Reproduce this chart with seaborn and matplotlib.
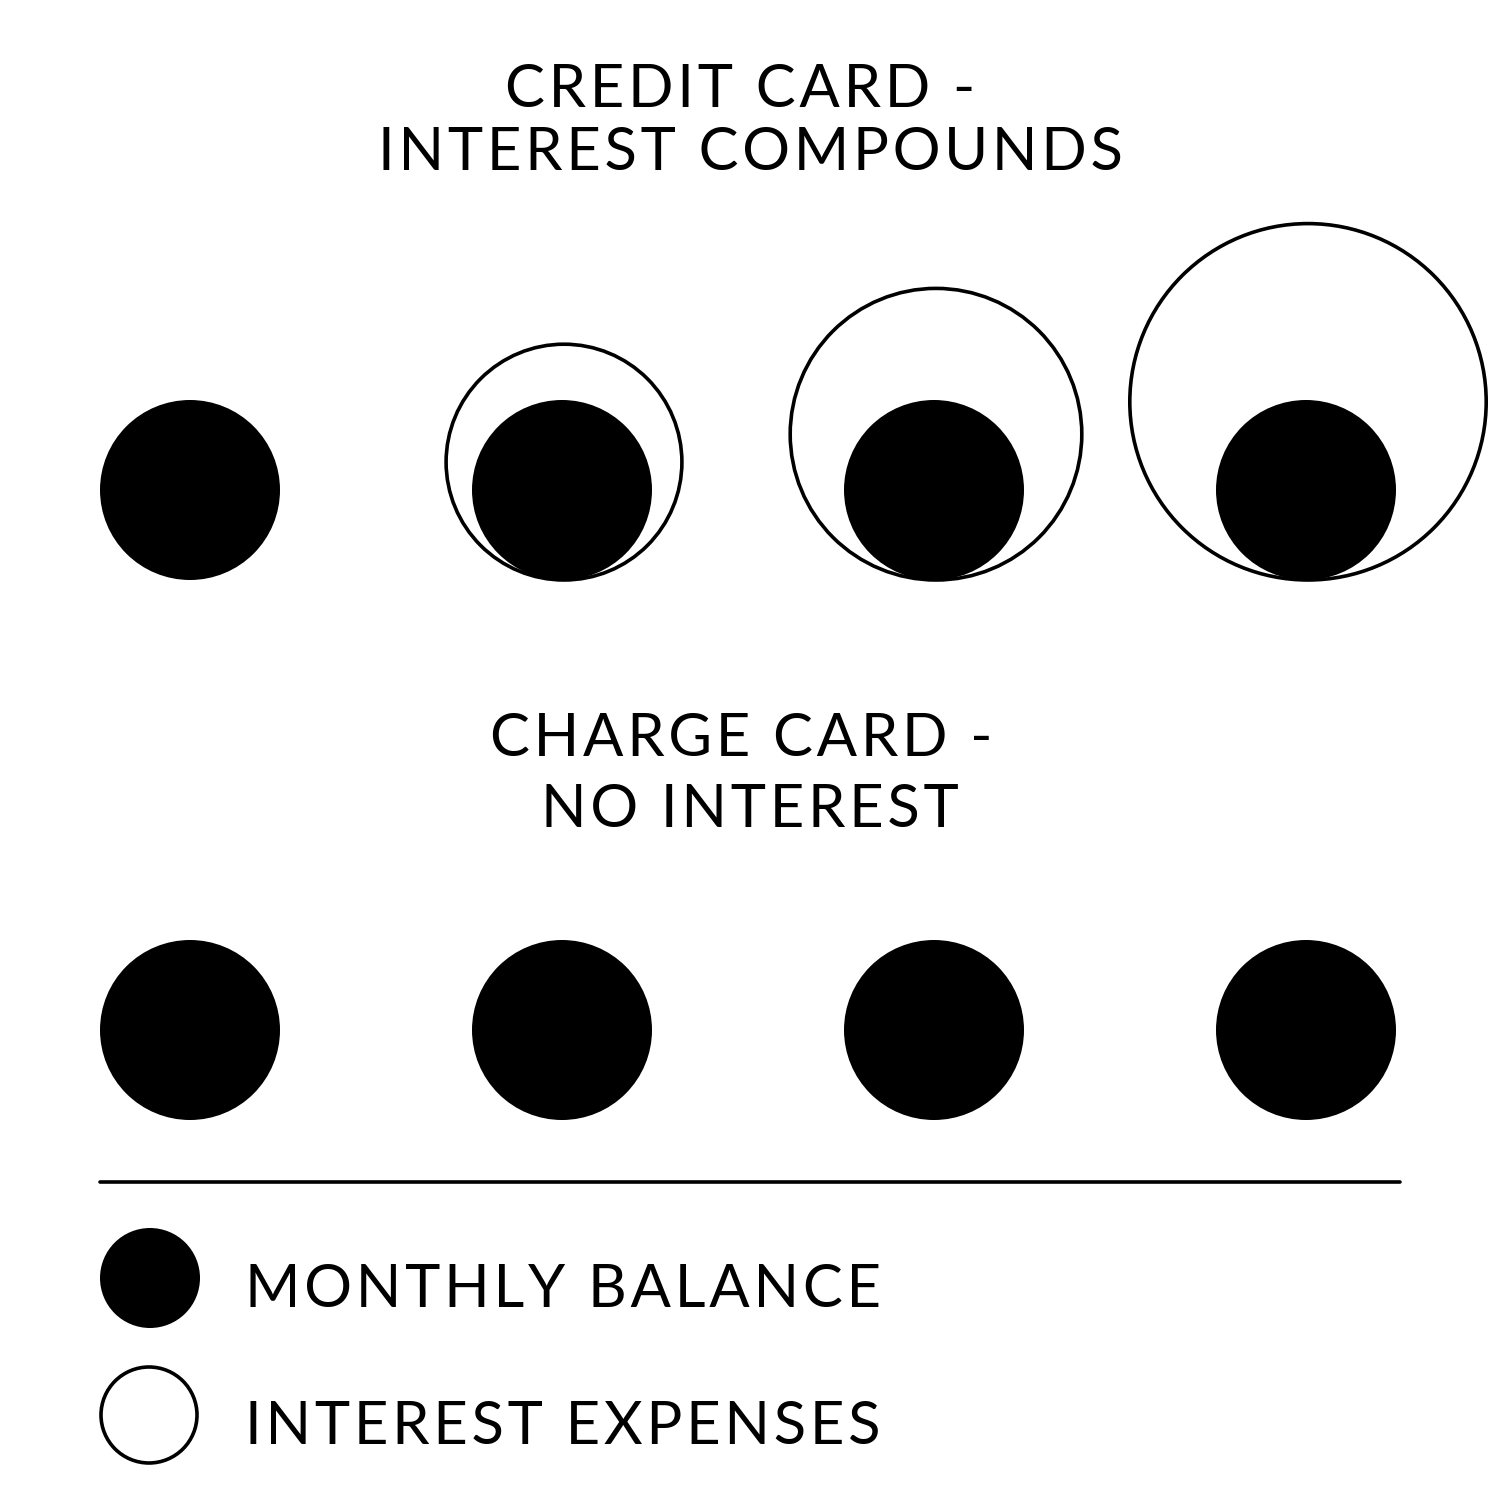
import matplotlib
matplotlib.use("Agg")
import matplotlib.pyplot as plt
from matplotlib.patches import Circle
import seaborn as sns

# relative size (radius) of each month's circle, balance = 1
months = ["Month 1", "Month 2", "Month 3", "Month 4"]
monthly_balance = [1.0, 1.0, 1.0, 1.0]
credit_total = [1.0, 1.31, 1.62, 1.98]   # balance + compounded interest
charge_total = [1.0, 1.0, 1.0, 1.0]      # no interest

credit_title = ["CREDIT CARD -", "INTEREST COMPOUNDS"]
charge_title = ["CHARGE CARD -", "NO INTEREST"]
legend_labels = ["MONTHLY BALANCE", "INTEREST EXPENSES"]

sns.set_theme(style="white")
plt.rcParams['font.family'] = ['Lato', 'DejaVu Sans']
plt.rcParams['text.color'] = 'black'

fig = plt.figure(figsize=(15, 15), dpi=100)
ax = fig.add_axes([0, 0, 1, 1])
ax.set_xlim(0, 1500)
ax.set_ylim(1500, 0)
ax.set_aspect('equal')
ax.axis('off')

unit = 90          # radius of a balance circle
x0, step = 190, 372
fs = 43
lw = 2.6


def tracked(s):
    # loose letter spacing like the original lettering
    return "\u200a".join(s)


def label(x, y, s, ha='center'):
    ax.text(x, y, tracked(s), ha=ha, va='baseline', fontsize=fs, color='black')


def draw_row(totals, cy):
    bottom = cy + unit
    for i, (bal, tot) in enumerate(zip(monthly_balance, totals)):
        cx = x0 + i * step
        if tot > bal:
            r = tot * unit
            ax.add_patch(Circle((cx + 2, bottom - r), r, facecolor='none',
                                edgecolor='black', lw=lw))
        ax.add_patch(Circle((cx, cy), bal * unit, facecolor='black',
                            edgecolor='none'))


# credit card section
label(740, 107, credit_title[0])
label(750, 170, credit_title[1])
draw_row(credit_total, 490)

# charge card section
label(741, 756, charge_title[0])
label(750, 827, charge_title[1])
draw_row(charge_total, 1030)

# separator
ax.plot([100, 1400], [1182, 1182], color='black', lw=lw)

# legend
ax.add_patch(Circle((150, 1278), 50, facecolor='black', edgecolor='none'))
ax.add_patch(Circle((149, 1415), 48, facecolor='none', edgecolor='black', lw=lw))
label(245, 1307, legend_labels[0], ha='left')
label(245, 1444, legend_labels[1], ha='left')

fig.savefig("out.png", dpi=100, facecolor='white')
